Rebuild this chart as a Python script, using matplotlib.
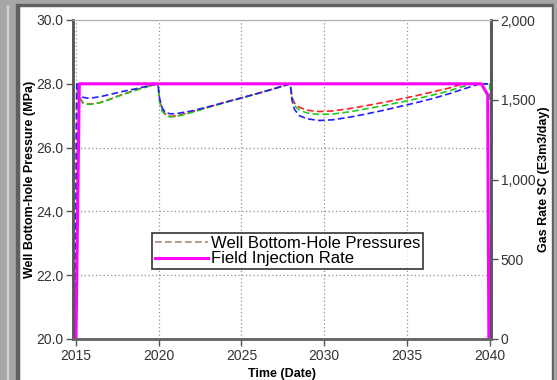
import matplotlib
matplotlib.use("Agg")
import matplotlib.pyplot as plt
from matplotlib.patches import Rectangle
from matplotlib.ticker import FuncFormatter, MultipleLocator

plt.rcParams['font.family'] = ['Liberation Sans', 'DejaVu Sans']

# time in decimal years, pressure in MPa
red_t = [2014.95, 2015.05, 2015.2, 2015.4, 2015.7, 2016.0, 2016.5, 2017.0, 2017.5, 2018.0,
         2018.5, 2019.0, 2019.5, 2019.95, 2020.05, 2020.2, 2020.4, 2020.7, 2021.0, 2022.0,
         2023.0, 2024.0, 2025.0, 2026.0, 2027.0, 2027.95, 2028.05, 2028.2, 2028.5, 2029.0,
         2029.7, 2030.5, 2031.5, 2032.5, 2033.5, 2034.5, 2035.5, 2036.5, 2037.5, 2038.4, 2039.9]
red_p = [20.3, 28.0, 27.6, 27.42, 27.37, 27.37, 27.42, 27.51, 27.61, 27.7,
         27.79, 27.87, 27.94, 28.0, 27.5, 27.2, 27.05, 26.98, 26.99, 27.12,
         27.27, 27.42, 27.56, 27.7, 27.85, 28.0, 27.6, 27.4, 27.26, 27.17,
         27.13, 27.15, 27.22, 27.31, 27.41, 27.51, 27.62, 27.74, 27.86, 28.0, 28.0]

green_t = [2014.95, 2015.05, 2015.2, 2015.4, 2015.7, 2016.0, 2016.5, 2017.0, 2017.5, 2018.0,
           2018.5, 2019.0, 2019.5, 2019.95, 2020.05, 2020.2, 2020.4, 2020.7, 2021.0, 2022.0,
           2023.0, 2024.0, 2025.0, 2026.0, 2027.0, 2027.95, 2028.05, 2028.2, 2028.5, 2029.0,
           2029.7, 2030.5, 2031.5, 2032.5, 2033.5, 2034.5, 2035.5, 2036.5, 2037.5, 2038.9, 2040.0, 2040.0]
green_p = [20.3, 28.0, 27.58, 27.4, 27.36, 27.36, 27.41, 27.5, 27.6, 27.69,
           27.78, 27.86, 27.94, 28.0, 27.45, 27.15, 27.02, 26.96, 26.97, 27.1,
           27.26, 27.41, 27.55, 27.7, 27.85, 28.0, 27.55, 27.32, 27.17, 27.08,
           27.04, 27.05, 27.12, 27.21, 27.31, 27.41, 27.52, 27.64, 27.77, 28.0, 28.0, 27.4]

blue_t = [2014.95, 2015.05, 2015.2, 2015.4, 2015.7, 2016.0, 2016.5, 2017.0, 2017.5, 2018.0,
          2018.5, 2019.0, 2019.5, 2019.95, 2020.05, 2020.2, 2020.4, 2020.7, 2021.0, 2022.0,
          2023.0, 2024.0, 2025.0, 2026.0, 2027.0, 2027.95, 2028.05, 2028.2, 2028.5, 2029.0,
          2029.7, 2030.5, 2031.5, 2032.5, 2033.5, 2034.5, 2035.5, 2036.5, 2037.5, 2038.5, 2039.4, 2039.9]
blue_p = [20.3, 28.0, 27.7, 27.58, 27.55, 27.56, 27.6, 27.66, 27.72, 27.78,
          27.83, 27.89, 27.95, 28.0, 27.55, 27.25, 27.1, 27.06, 27.06, 27.15,
          27.28, 27.42, 27.56, 27.7, 27.85, 28.0, 27.5, 27.2, 27.0, 26.9,
          26.85, 26.87, 26.95, 27.05, 27.16, 27.28, 27.4, 27.53, 27.68, 27.85, 28.0, 28.0]

# field injection rate, E3m3/day
rate_t = [2015.0, 2015.2, 2039.5, 2039.88, 2039.95]
rate_q = [0, 1600, 1600, 1530, 0]

fig = plt.figure(figsize=(5.57, 3.80), dpi=100)
ax = fig.add_axes([73 / 557, 1 - 339 / 380, (491 - 73) / 557, (339 - 20) / 380])
ax2 = ax.twinx()

ax.plot(red_t, red_p, color='#ff2020', lw=1.2, ls=(0, (4, 2)))
ax.plot(green_t, green_p, color='#20cc20', lw=1.2, ls=(0, (4, 2)))
ax.plot(blue_t, blue_p, color='#2020ff', lw=1.2, ls=(0, (4, 2)))
ax2.plot(rate_t, rate_q, color='#ff00ff', lw=2.2)

ax.set_xlim(2014.82, 2040.08)
ax.set_ylim(20, 30)
ax2.set_ylim(0, 2000)
ax.xaxis.set_major_locator(MultipleLocator(5))
ax.yaxis.set_major_locator(MultipleLocator(2))
ax2.yaxis.set_major_locator(MultipleLocator(500))
ax.yaxis.set_major_formatter(FuncFormatter(lambda v, p: f"{v:.1f}"))
ax2.yaxis.set_major_formatter(FuncFormatter(lambda v, p: f"{v:,.0f}"))

ax.grid(True, color='#909090', ls=(0, (1, 2)), lw=0.9)
ax.set_axisbelow(True)

for a in (ax, ax2):
    a.tick_params(labelsize=10, labelcolor='#333333', length=5, width=1, color='#555555', pad=2)
    a.spines['top'].set_color('#b0b0b0')
    a.spines['left'].set_color('#555555')
    a.spines['left'].set_linewidth(1.8)
    a.spines['right'].set_color('#555555')
    a.spines['right'].set_linewidth(1.8)
    a.spines['bottom'].set_color('#666666')
    a.spines['bottom'].set_linewidth(1.8)

ax.set_ylabel("Well Bottom-hole Pressure (MPa)", fontsize=9, fontweight='bold')
ax.yaxis.set_label_coords((36 - 73) / 418, 0.5)
ax2.set_ylabel("Gas Rate SC (E3m3/day)", fontsize=9, fontweight='bold')
ax2.yaxis.set_label_coords((538 - 73) / 418, 0.5)
ax.set_xlabel("Time (Date)", fontsize=9, fontweight='bold', labelpad=4)

h1, = ax2.plot([], [], color='#a88878', lw=1.2, ls=(0, (4, 2)))
h2, = ax2.plot([], [], color='#ff00ff', lw=2.2)
leg = ax2.legend([h1, h2], ["Well Bottom-Hole Pressures", "Field Injection Rate"],
                 loc='upper left', bbox_to_anchor=((152 - 73) / 418, 1 - (233 - 20) / 319),
                 fontsize=12, frameon=True, fancybox=False, borderpad=0.15,
                 handlelength=3.2, handletextpad=0.2, labelspacing=0.05, borderaxespad=0)
leg.get_frame().set_edgecolor('black')
leg.get_frame().set_linewidth(1.2)

# window border
W, H = 557, 380
def rect(x0, y0, w, h, c):
    fig.patches.append(Rectangle((x0 / W, 1 - (y0 + h) / H), w / W, h / H,
                                 transform=fig.transFigure, color=c, zorder=10))
rect(0, 0, 19, H, '#a6a6a6')
rect(7, 0, 1, H, '#d0d0d0')
rect(16, 6, 3, H, '#606060')
rect(0, 0, W, 4, '#a6a6a6')
rect(16, 4, 538, 2, '#606060')
rect(552, 4, 2, H, '#606060')
rect(554, 0, 3, H, '#a6a6a6')

fig.savefig("out.png", dpi=100)
